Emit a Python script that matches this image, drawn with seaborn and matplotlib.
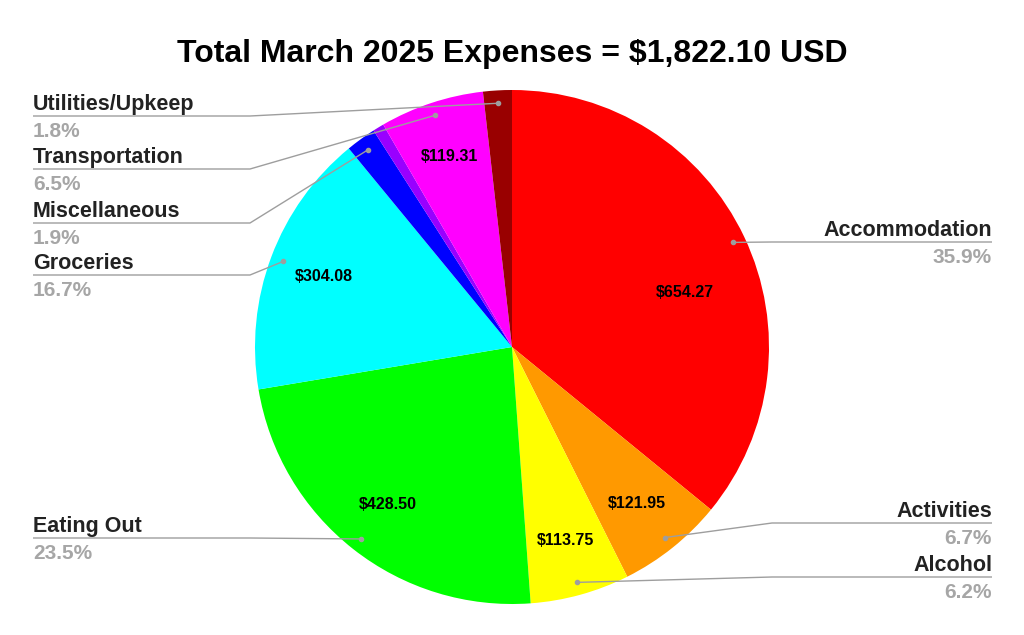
import matplotlib
matplotlib.use('Agg')
import numpy as np
import matplotlib.pyplot as plt
import seaborn as sns

sns.set_style('white')
plt.rcParams['font.family'] = ['Liberation Sans', 'DejaVu Sans']

# Données (mars 2025)
categories = ['Accommodation', 'Activities', 'Alcohol', 'Eating Out', 'Groceries',
              'Miscellaneous', 'Other', 'Transportation', 'Utilities/Upkeep']
amounts = [654.27, 121.95, 113.75, 428.50, 304.08, 34.50, 12.84, 119.31, 32.90]
colors = ['#ff0000', '#ff9900', '#ffff00', '#00ff00', '#00ffff',
          '#0000ff', '#9900ff', '#ff00ff', '#990000']
show_amount = [True, True, True, True, True, False, False, True, False]
show_label = [True, True, True, True, True, True, False, True, True]
title = 'Total March 2025 Expenses = $1,822.10 USD'

# Mise en page (pixels, origine en haut à gauche)
W, H = 1024, 635
CX, CY, R = 512, 347, 257
label_side = {'Accommodation': 'right', 'Activities': 'right', 'Alcohol': 'right',
              'Eating Out': 'left', 'Groceries': 'left', 'Miscellaneous': 'left',
              'Transportation': 'left', 'Utilities/Upkeep': 'left'}
label_line_y = {'Accommodation': 242, 'Activities': 523, 'Alcohol': 577,
                'Eating Out': 538, 'Groceries': 275, 'Miscellaneous': 223,
                'Transportation': 169, 'Utilities/Upkeep': 116}
amount_tweak = {'Accommodation': (0.705, -7.7)}


def py(y):
    return H - y


fig = plt.figure(figsize=(W / 100, H / 100), dpi=100)
ax = fig.add_axes([0, 0, 1, 1])

wedges, _ = ax.pie(amounts, colors=colors, startangle=90, counterclock=False,
                   radius=R, center=(CX, py(CY)), wedgeprops=dict(linewidth=0))
ax.set_xlim(0, W)
ax.set_ylim(0, H)
ax.set_aspect('equal')
ax.axis('off')

total = sum(amounts)
line_col = '#9e9e9e'

for i, w in enumerate(wedges):
    name = categories[i]
    theta = np.deg2rad((w.theta1 + w.theta2) / 2)

    # montant dans la part
    if show_amount[i]:
        frac, dth = amount_tweak.get(name, (0.78, 0))
        t = theta + np.deg2rad(dth)
        ax.text(CX + frac * R * np.cos(t), py(CY) + frac * R * np.sin(t),
                f'${amounts[i]:.2f}', ha='center', va='center',
                fontsize=11.5, fontweight='bold', color='#000000')

    # étiquette avec ligne de rappel
    if show_label[i]:
        ax_x = CX + 0.95 * R * np.cos(theta)
        ax_y = py(CY) + 0.95 * R * np.sin(theta)
        ly = py(label_line_y[name])
        if label_side[name] == 'left':
            x0, elbow, ha = 33, 250, 'left'
        else:
            x0, elbow, ha = 992, 772, 'right'
        ax.plot([x0, elbow, ax_x], [ly, ly, ax_y], color=line_col, lw=1,
                solid_capstyle='butt')
        ax.plot([ax_x], [ax_y], 'o', color=line_col, markersize=3)
        ax.text(x0, ly + 6, name, ha=ha, va='baseline', fontsize=15.5,
                fontweight='bold', color='#222222')
        ax.text(x0, ly - 21, f'{amounts[i] / total * 100:.1f}%', ha=ha,
                va='baseline', fontsize=15, fontweight='bold', color='#a6a6a6')

ax.text(W / 2, py(62), title, ha='center', va='baseline', fontsize=23,
        fontweight='bold', color='#000000')

fig.savefig('out.png', dpi=100, facecolor='white')
